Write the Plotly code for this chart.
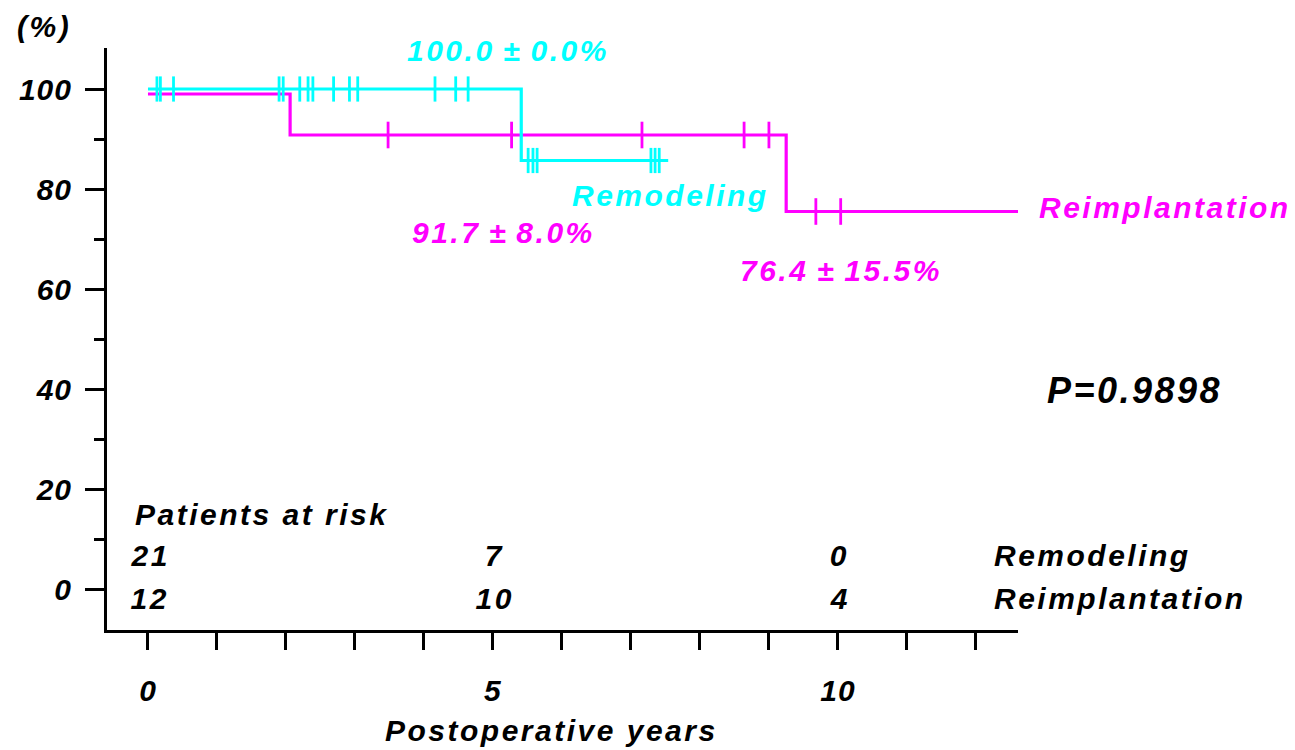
import plotly.graph_objects as go

# ---- Data ----
# Kaplan-Meier steps (time in years, survival in %)
remodel_t = [0.0, 5.41, 7.54]
remodel_s = [100.0, 85.7, 85.7]
remodel_censor = [0.13, 0.18, 0.37, 1.90, 1.96, 2.20, 2.32, 2.39, 2.69, 2.92,
                  3.04, 4.16, 4.46, 4.64, 5.51, 5.58, 5.64, 7.29, 7.35, 7.41]

reimpl_t = [0.0, 2.06, 9.25, 12.63]
reimpl_s = [99.0, 90.8, 75.5, 75.5]
reimpl_censor = [3.48, 5.27, 7.16, 8.64, 9.00, 9.68, 10.04]

# Patients at risk
risk_t = [0, 5, 10]
risk_remodel = [21, 7, 0]
risk_reimpl = [12, 10, 4]

# Axis ticks
x_ticks = list(range(13))
x_labels = ["0", "", "", "", "", "5", "", "", "", "", "10", "", ""]
y_major = [0, 20, 40, 60, 80, 100]
y_minor = [10, 30, 50, 70, 90]

CYAN = "#00FFFF"
MAGENTA = "#FF00FF"
FAM = "Liberation Sans, Arial, sans-serif"


def step_at(ts, ss, t):
    val = ss[0]
    for ti, si in zip(ts, ss):
        if ti <= t:
            val = si
    return val


def fnt(size=30, color="black"):
    return dict(family=FAM, size=size, color=color, weight="bold", style="italic")


fig = go.Figure()

# Reimplantation (magenta) drawn first
fig.add_trace(go.Scatter(x=reimpl_t, y=reimpl_s, mode="lines", line_shape="hv",
                         line=dict(color=MAGENTA, width=3.2), showlegend=False,
                         hoverinfo="skip"))
fig.add_trace(go.Scatter(x=reimpl_censor,
                         y=[step_at(reimpl_t, reimpl_s, t) for t in reimpl_censor],
                         mode="markers",
                         marker=dict(symbol="line-ns", size=19,
                                     line=dict(color=MAGENTA, width=2.8)),
                         showlegend=False, hoverinfo="skip"))

# Remodeling (cyan)
fig.add_trace(go.Scatter(x=remodel_t, y=remodel_s, mode="lines", line_shape="hv",
                         line=dict(color=CYAN, width=3.2), showlegend=False,
                         hoverinfo="skip"))
fig.add_trace(go.Scatter(x=remodel_censor,
                         y=[step_at(remodel_t, remodel_s, t) for t in remodel_censor],
                         mode="markers",
                         marker=dict(symbol="line-ns", size=18,
                                     line=dict(color=CYAN, width=2.8)),
                         showlegend=False, hoverinfo="skip"))

ann = []


def add(text, x, y, color="black", size=30, xanchor="left", ref="data"):
    ann.append(dict(text=text, x=x, y=y,
                    xref="x" if ref == "data" else "paper",
                    yref="y" if ref == "data" else "paper",
                    showarrow=False, xanchor=xanchor, yanchor="middle",
                    align="left" if xanchor == "left" else "center",
                    font=fnt(size, color)))


add("(%)", -0.101, 1.0378, ref="paper")
add("100.0\u2009±\u20090.0%", 3.72, 107.8, CYAN)
add("Remodeling", 6.12, 78.8, CYAN)
add("91.7\u2009±\u20098.0%", 3.80, 71.4, MAGENTA)
add("Reimplantation", 1.0209, 0.7251, MAGENTA, ref="paper")
add("76.4\u2009±\u200915.5%", 8.55, 63.8, MAGENTA)
add("P=0.9898", 1.0296, 0.4107, size=36, ref="paper")
add("Patients at risk", -0.22, 15.0)
for t, n in zip(risk_t, risk_remodel):
    add(str(n), t + 0.03, 6.7, xanchor="center")
for t, n in zip(risk_t, risk_reimpl):
    add(str(n), t + 0.03, -1.8, xanchor="center")
add("Remodeling", 12.24, 6.7)
add("Reimplantation", 12.24, -1.8)
add("Postoperative years", 0.303, -0.1735, ref="paper")

fig.update_layout(
    width=1295, height=750,
    margin=dict(l=107, r=277, t=48, b=120),
    paper_bgcolor="white", plot_bgcolor="white",
    annotations=ann,
    showlegend=False,
    xaxis=dict(range=[-0.594, 12.61], showgrid=False, zeroline=False,
               showline=True, linecolor="black", linewidth=3,
               tickmode="array", tickvals=x_ticks, ticktext=x_labels,
               ticks="outside", ticklen=17, tickwidth=3, tickcolor="black",
               tickfont=fnt(30), ticklabelstandoff=15),
    yaxis=dict(range=[-8.2, 108.2], showgrid=False, zeroline=False,
               showline=True, linecolor="black", linewidth=3,
               tickmode="array", tickvals=y_major,
               ticktext=[str(v) for v in y_major],
               ticks="outside", ticklen=19, tickwidth=3, tickcolor="black",
               tickfont=fnt(30), ticklabelstandoff=7,
               minor=dict(tickmode="array", tickvals=y_minor, ticks="outside",
                          ticklen=10, tickwidth=3, tickcolor="black",
                          showgrid=False)),
)

post = ("document.body.style.margin='0';"
        "var s=document.createElement('style');"
        "s.textContent='.annotation-text{letter-spacing:2.5px}"
        " .xtick text,.ytick text{letter-spacing:1px}';"
        "document.head.appendChild(s);")

fig.write_html("out.html", post_script=post,
               config={"displayModeBar": False, "staticPlot": True})
